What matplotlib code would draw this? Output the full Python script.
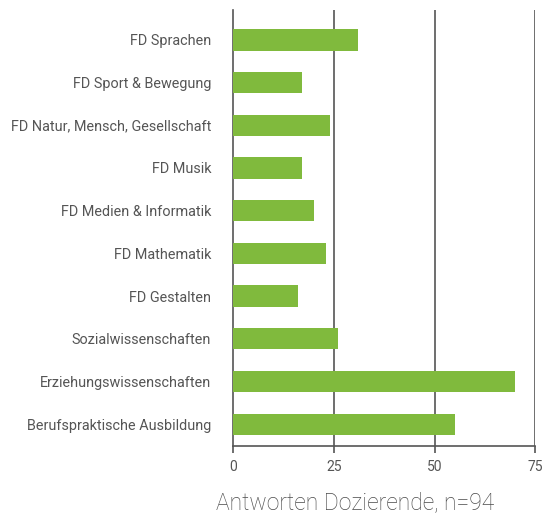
import matplotlib.pyplot as plt

categories = ['FD Sprachen', 'FD Sport & Bewegung', 'FD Natur, Mensch, Gesellschaft',
              'FD Musik', 'FD Medien & Informatik', 'FD Mathematik', 'FD Gestalten',
              'Sozialwissenschaften', 'Erziehungswissenschaften', 'Berufspraktische Ausbildung']
values = [31, 17, 24, 17, 20, 23, 16, 26, 70, 55]
x_ticks = [0, 25, 50, 75]

green = '#80ba3d'
line_col = '#555555'
text_col = '#555555'

plt.rcParams['font.family'] = ['Roboto', 'DejaVu Sans']

fig = plt.figure(figsize=(5.45, 5.13), dpi=100)
ax = fig.add_axes([0.4284, 0.1306, 0.5538, 0.85])

pos = list(range(len(categories)))
ax.barh(pos, values, height=0.5, color=green, zorder=3)

ax.set_xlim(0, 75)
ax.set_ylim(len(categories) - 1 + 0.51, -0.7)
ax.set_yticks(pos)
ax.set_yticklabels(categories, fontsize=10.4, color=text_col)
ax.set_xticks(x_ticks)
ax.set_xticklabels([str(t) for t in x_ticks], fontsize=10, color=text_col)

ax.tick_params(axis='y', length=0, pad=16)
ax.tick_params(axis='x', length=5, width=1.2, color=line_col, pad=5)

for t in x_ticks[1:]:
    ax.axvline(t, color=line_col, lw=1.2, zorder=1)

for s in ['top', 'right']:
    ax.spines[s].set_visible(False)
for s in ['left', 'bottom']:
    ax.spines[s].set_color(line_col)
    ax.spines[s].set_linewidth(1.2)

fig.text(0.652, 0.02, 'Antworten Dozierende, n=94', fontsize=16.5, color='#4a4a4a',
         fontweight='light', ha='center', va='center')

fig.savefig('out.png', dpi=100)
